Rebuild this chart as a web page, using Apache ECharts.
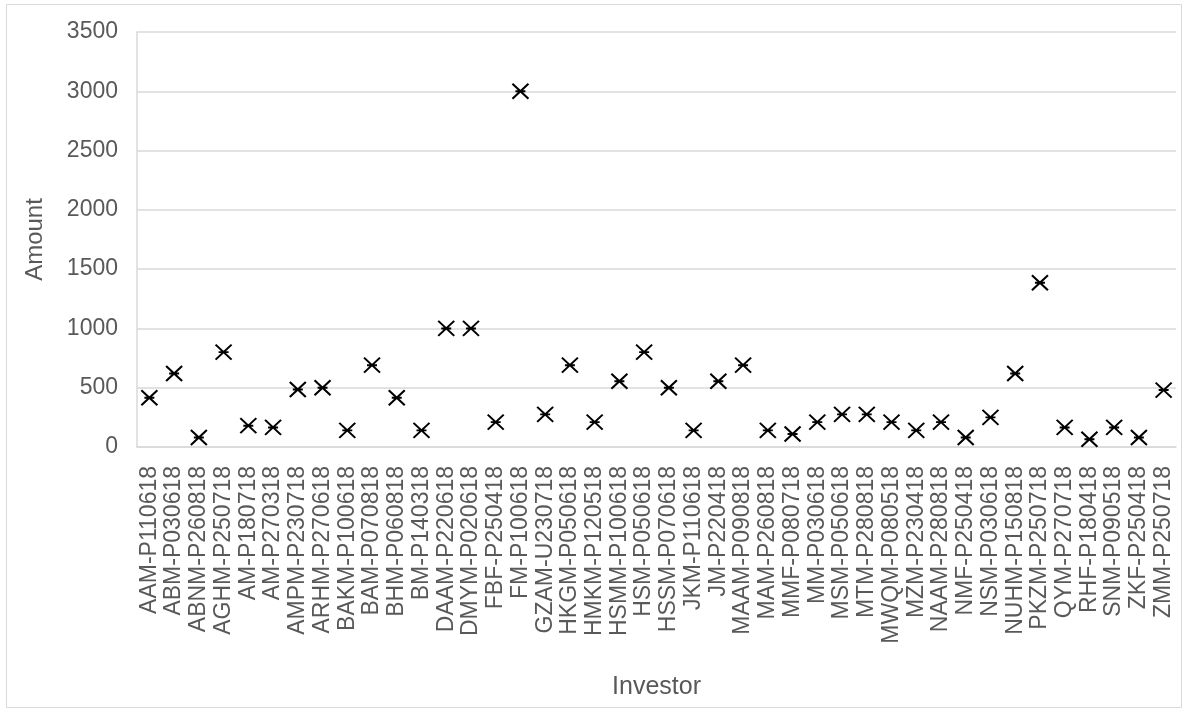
<!DOCTYPE html>
<html>
<head>
<meta charset="utf-8">
<script src="https://cdn.jsdelivr.net/npm/echarts@6/dist/echarts.min.js"></script>
<style>
  html, body { margin: 0; padding: 0; background: #fff; }
  #chart { width: 1187px; height: 713px; }
</style>
</head>
<body>
<div id="chart"></div>
<script>
// Investor codes along the category axis
const investors = [
  'AAM-P110618', 'ABM-P030618', 'ABNM-P260818', 'AGHM-P250718', 'AM-P180718',
  'AM-P270318', 'AMPM-P230718', 'ARHM-P270618', 'BAKM-P100618', 'BAM-P070818',
  'BHM-P060818', 'BM-P140318', 'DAAM-P220618', 'DMYM-P020618', 'FBF-P250418',
  'FM-P100618', 'GZAM-U230718', 'HKGM-P050618', 'HMKM-P120518', 'HSMM-P100618',
  'HSM-P050618', 'HSSM-P070618', 'JKM-P110618', 'JM-P220418', 'MAAM-P090818',
  'MAM-P260818', 'MMF-P080718', 'MM-P030618', 'MSM-P050618', 'MTM-P280818',
  'MWQM-P080518', 'MZM-P230418', 'NAAM-P280818', 'NMF-P250418', 'NSM-P030618',
  'NUHM-P150818', 'PKZM-P250718', 'QYM-P270718', 'RHF-P180418', 'SNM-P090518',
  'ZKF-P250418', 'ZMM-P250718'
];

// Amount per investor
const amounts = [
  415, 620, 80, 800, 180,
  165, 485, 500, 140, 690,
  415, 140, 1000, 1000, 210,
  3000, 275, 690, 210, 555,
  800, 500, 140, 555, 690,
  140, 110, 210, 275, 275,
  210, 140, 210, 80, 250,
  620, 1385, 165, 65, 165,
  80, 480
];

// Value axis ticks
const yTicks = [0, 500, 1000, 1500, 2000, 2500, 3000, 3500];

const chart = echarts.init(document.getElementById('chart'));

const labelColor = '#595959';
const gridColor = '#d9d9d9';
const fontFamily = '"Liberation Sans", Arial, sans-serif';

chart.setOption({
  backgroundColor: '#ffffff',
  animation: false,
  graphic: [{
    type: 'rect',
    shape: { x: 6.5, y: 4.5, width: 1175, height: 703 },
    style: { fill: 'none', stroke: '#d9d9d9', lineWidth: 1 },
    silent: true
  }],
  grid: { left: 137, right: 11, top: 32, bottom: 266 },
  xAxis: {
    type: 'category',
    data: investors,
    boundaryGap: true,
    name: 'Investor',
    nameLocation: 'middle',
    nameGap: 228,
    nameTextStyle: { color: labelColor, fontSize: 25, fontFamily },
    axisLine: { show: true, lineStyle: { color: gridColor, width: 1.5 } },
    axisTick: { show: false },
    axisLabel: {
      interval: 0,
      rotate: 90,
      margin: 19,
      color: labelColor,
      fontSize: 23,
      fontFamily
    },
    splitLine: { show: false }
  },
  yAxis: {
    type: 'value',
    min: yTicks[0],
    max: yTicks[yTicks.length - 1],
    interval: yTicks[1] - yTicks[0],
    name: 'Amount',
    nameLocation: 'middle',
    nameGap: 90,
    nameRotate: 90,
    nameTextStyle: { color: labelColor, fontSize: 24, fontFamily },
    axisLine: { show: true, lineStyle: { color: gridColor, width: 1.5 } },
    axisTick: { show: false },
    axisLabel: {
      margin: 19,
      color: labelColor,
      fontSize: 23,
      fontFamily,
      formatter: (v) => String(v)
    },
    splitLine: { show: true, lineStyle: { color: gridColor, width: 1.5 } }
  },
  series: [{
    type: 'scatter',
    data: amounts,
    // cross with a short horizontal bar through its centre
    symbol: 'path://M0,0L16,15M16,0L0,15M3,7.5L13,7.5',
    symbolSize: [16, 15],
    itemStyle: { color: 'none', borderColor: '#000000', borderWidth: 2, opacity: 1 }
  }]
});
</script>
</body>
</html>
